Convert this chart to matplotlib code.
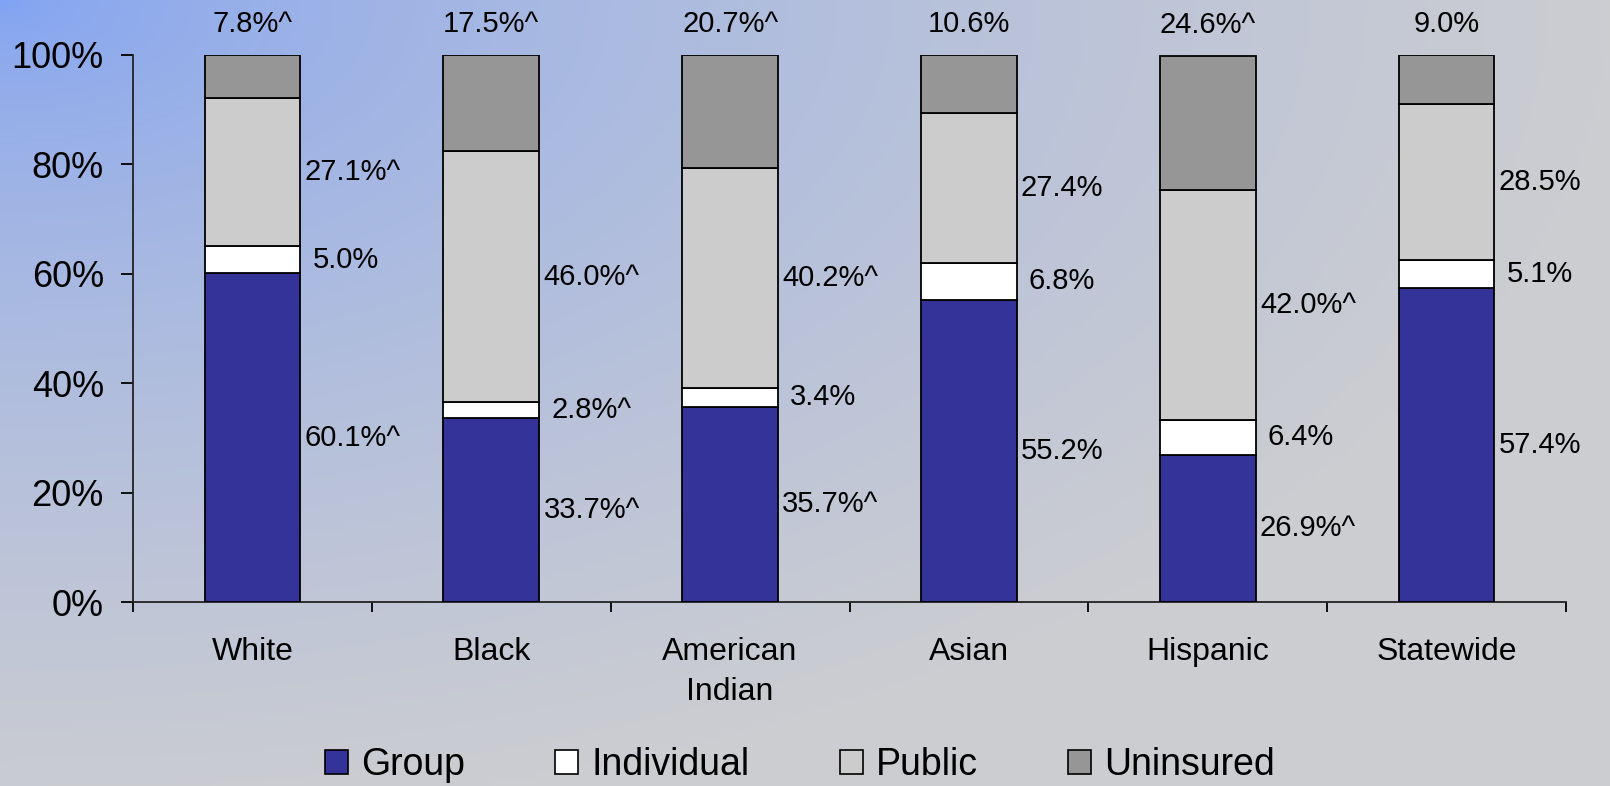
import matplotlib
matplotlib.use("Agg")
import matplotlib.pyplot as plt
from matplotlib.patches import Patch
import numpy as np

plt.rcParams['font.family'] = ['Liberation Sans', 'DejaVu Sans']

categories = ['White', 'Black', 'American\nIndian', 'Asian', 'Hispanic', 'Statewide']
group      = [60.1, 33.7, 35.7, 55.2, 26.9, 57.4]
individual = [5.0, 2.8, 3.4, 6.8, 6.4, 5.1]
public     = [27.1, 46.0, 40.2, 27.4, 42.0, 28.5]
uninsured  = [7.8, 17.5, 20.7, 10.6, 24.6, 9.0]

group_lbl      = ['60.1%^', '33.7%^', '35.7%^', '55.2%', '26.9%^', '57.4%']
individual_lbl = ['5.0%', '2.8%^', '3.4%', '6.8%', '6.4%', '5.1%']
public_lbl     = ['27.1%^', '46.0%^', '40.2%^', '27.4%', '42.0%^', '28.5%']
uninsured_lbl  = ['7.8%^', '17.5%^', '20.7%^', '10.6%', '24.6%^', '9.0%']

series = [('Group', group, group_lbl, '#333399'),
          ('Individual', individual, individual_lbl, '#FFFFFF'),
          ('Public', public, public_lbl, '#CCCCCC'),
          ('Uninsured', uninsured, uninsured_lbl, '#969696')]

fig = plt.figure(figsize=(16.1, 7.86), dpi=100)

# gradient background, blue in the top-left corner fading to grey
bg = fig.add_axes([0, 0, 1, 1])
bg.set_zorder(0)
xx, yy = np.meshgrid(np.linspace(0, 1, 400), np.linspace(0, 1, 200))
t = np.clip(np.sqrt(xx ** 2 + (yy / 1.05) ** 2), 0, 1) ** 0.6
blue = np.array([127, 162, 244]) / 255.0
grey = np.array([204, 205, 209]) / 255.0
img = blue[None, None, :] * (1 - t[..., None]) + grey[None, None, :] * t[..., None]
bg.imshow(img, extent=[0, 1, 0, 1], aspect='auto', origin='upper')
bg.axis('off')

ax = fig.add_axes([133 / 1610, 1 - 602 / 786, (1566 - 133) / 1610, (602 - 55) / 786])
ax.set_zorder(1)
ax.patch.set_alpha(0)

x = np.arange(len(categories))
bottom = np.zeros(len(categories))
for name, vals, lbls, col in series:
    vals = np.array(vals)
    ax.bar(x, vals, width=0.4, bottom=bottom, color=col, edgecolor='black', linewidth=1.3, zorder=3)
    mids = bottom + vals / 2
    if name != 'Uninsured':
        for i in range(len(x)):
            off = 0.03 if lbls[i].endswith('^') else 0.0
            ax.text(x[i] + 0.39 + off, mids[i], lbls[i], ha='center', va='center', fontsize=21)
    else:
        for i in range(len(x)):
            ax.annotate(lbls[i], (x[i], bottom[i] + vals[i]), xytext=(0, 22),
                        textcoords='offset points', ha='center', va='center', fontsize=21,
                        annotation_clip=False)
    bottom = bottom + vals

ax.set_xlim(-0.5, len(categories) - 0.5)
ax.set_ylim(0, 100)
ax.set_yticks(np.arange(0, 101, 20))
ax.set_yticklabels(['%d%%' % v for v in np.arange(0, 101, 20)], fontsize=26)
ax.set_xticks(np.arange(-0.5, len(categories), 1))
ax.set_xticklabels([])
ax.set_xticks(x, minor=True)
ax.set_xticklabels(categories, minor=True, fontsize=23, linespacing=1.45)
ax.tick_params(axis='x', which='major', length=7, width=1.3, direction='out')
ax.tick_params(axis='x', which='minor', length=0, pad=25)
ax.tick_params(axis='y', length=9, width=1.3, direction='out', pad=12)

for s in ['top', 'right']:
    ax.spines[s].set_visible(False)
for s in ['left', 'bottom']:
    ax.spines[s].set_linewidth(1.3)
    ax.spines[s].set_color('#222222')

handles = [Patch(facecolor=col, edgecolor='black', linewidth=1.2, label=name)
           for name, vals, lbls, col in series]
fig.legend(handles=handles, loc='center', bbox_to_anchor=(800 / 1610, 1 - 765 / 786),
           ncol=4, frameon=False, fontsize=27, handlelength=0.62, handleheight=0.62,
           handletextpad=0.35, columnspacing=2.4, borderaxespad=0)

fig.savefig("out.png", dpi=100)
